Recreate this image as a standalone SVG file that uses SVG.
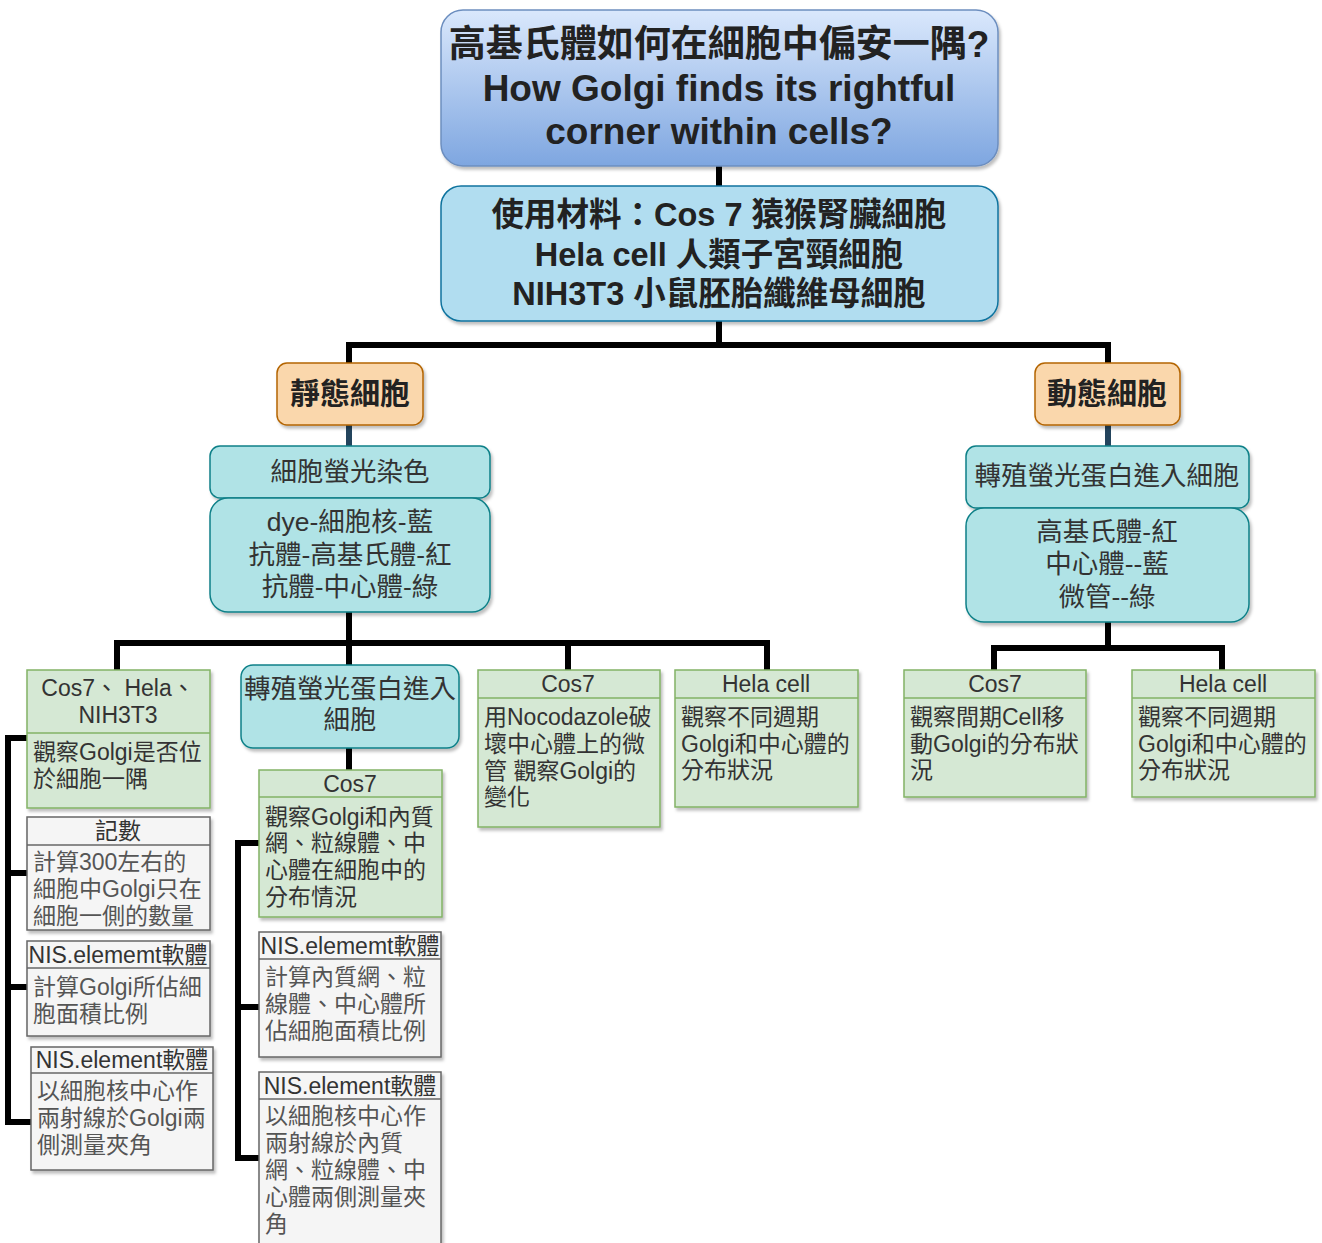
<svg xmlns="http://www.w3.org/2000/svg" width="1322" height="1243" viewBox="0 0 1322 1243">
<defs>
<linearGradient id="gTitle" x1="0" y1="0" x2="0" y2="1">
<stop offset="0" stop-color="#dae8fc"/>
<stop offset="1" stop-color="#7ea6e0"/>
</linearGradient>
<filter id="sh" x="-10%" y="-10%" width="130%" height="130%">
<feDropShadow dx="2" dy="3" stdDeviation="1.5" flood-color="#000" flood-opacity="0.25"/>
</filter>
<style>
text{font-family:"Liberation Sans","Noto Sans CJK TC",sans-serif;text-anchor:middle;fill:#222}
.b{font-weight:bold}
.t37{font-size:37px}
.t33{font-size:32.5px}
.t30{font-size:30px}
.t26{font-size:26.5px;fill:#333}
.t22{font-size:23px;fill:#333}
.l{text-anchor:start}
.gb{fill:#555}
.title{fill:url(#gTitle);stroke:#6c8ebf;stroke-width:1.5;filter:url(#sh)}
.blue{fill:#b1ddf0;stroke:#10739e;stroke-width:1.5;filter:url(#sh)}
.org{fill:#fad7ac;stroke:#b46504;stroke-width:1.5;filter:url(#sh)}
.teal{fill:#b0e3e6;stroke:#0e8088;stroke-width:1.5;filter:url(#sh)}
.grn{fill:#d5e8d4;stroke:#82b366;stroke-width:1.5;filter:url(#sh)}
.gry{fill:#f5f5f5;stroke:#666;stroke-width:1.5;filter:url(#sh)}
.gsep{stroke:#82b366;stroke-width:1.5}
.ysep{stroke:#666;stroke-width:1.5}
.c{fill:none;stroke:#000;stroke-width:6}
.cb{fill:none;stroke:#23445d;stroke-width:6}
</style>
</defs>
<rect width="1322" height="1243" fill="#fff"/>
<g id="connectors">
<path class="c" d="M719 166V186"/>
<path class="c" d="M719 321V345M349 345H1108M349 342V364M1108 342V364"/>
<path class="cb" d="M349 425V447"/>
<path class="cb" d="M1108 425V447"/>
<path class="c" d="M349 612V643M117 643H767M117 640V670M349 640V666M568 640V670M767 640V670"/>
<path class="c" d="M1108 622V648M994 648H1222M994 645V670M1222 645V670"/>
<path class="c" d="M349 748V770"/>
<path class="c" d="M27 738H8V1122H31M8 873H27M8 987H27"/>
<path class="c" d="M259 843H238V1158H259M238 1007H259"/>
</g>
<g id="n-title">
<rect class="title" x="441" y="10" width="557" height="156" rx="22"/>
<text class="b t37" x="719" y="57">高基氏體如何在細胞中偏安一隅?</text>
<text class="b t37" x="719" y="101">How Golgi finds its rightful</text>
<text class="b t37" x="719" y="144">corner within cells?</text>
</g>
<g id="n-material">
<rect class="blue" x="441" y="186" width="557" height="135" rx="20"/>
<text class="b t33" x="719" y="226">使用材料：Cos 7 猿猴腎臟細胞</text>
<text class="b t33" x="719" y="266">Hela cell 人類子宮頸細胞</text>
<text class="b t33" x="719" y="305">NIH3T3 小鼠胚胎纖維母細胞</text>
</g>
<g id="n-static">
<rect class="org" x="277" y="363" width="146" height="62" rx="10"/>
<text class="b t30" x="350" y="404">靜態細胞</text>
</g>
<g id="n-dynamic">
<rect class="org" x="1035" y="363" width="145" height="62" rx="10"/>
<text class="b t30" x="1107" y="404">動態細胞</text>
</g>
<g id="n-stain">
<rect class="teal" x="210" y="446" width="280" height="52" rx="10"/>
<text class="t26" x="350" y="481">細胞螢光染色</text>
</g>
<g id="n-dye">
<rect class="teal" x="210" y="498" width="280" height="114" rx="18"/>
<text class="t26" x="350" y="531">dye-細胞核-藍</text>
<text class="t26" x="350" y="564">抗體-高基氏體-紅</text>
<text class="t26" x="350" y="596">抗體-中心體-綠</text>
</g>
<g id="n-trans-r">
<rect class="teal" x="966" y="446" width="283" height="62" rx="10"/>
<text class="t26" x="1107" y="485">轉殖螢光蛋白進入細胞</text>
</g>
<g id="n-colors-r">
<rect class="teal" x="966" y="508" width="283" height="114" rx="18"/>
<text class="t26" x="1107" y="541">高基氏體-紅</text>
<text class="t26" x="1107" y="573">中心體--藍</text>
<text class="t26" x="1107" y="606">微管--綠</text>
</g>
<g id="n-a">
<rect class="grn" x="27" y="670" width="183" height="138"/>
<line class="gsep" x1="27" y1="733" x2="210" y2="733"/>
<text class="t22" x="118" y="696">Cos7、 Hela、</text>
<text class="t22" x="118" y="723">NIH3T3</text>
<text class="t22 l" x="33" y="760">觀察Golgi是否位</text>
<text class="t22 l" x="33" y="787">於細胞一隅</text>
</g>
<g id="n-trans-m">
<rect class="teal" x="241" y="665" width="218" height="83" rx="12"/>
<text class="t26" x="350" y="698">轉殖螢光蛋白進入</text>
<text class="t26" x="350" y="729">細胞</text>
</g>
<g id="n-cos7-m">
<rect class="grn" x="259" y="770" width="183" height="147"/>
<line class="gsep" x1="259" y1="797" x2="442" y2="797"/>
<text class="t22" x="350" y="792">Cos7</text>
<text class="t22 l" x="265" y="825">觀察Golgi和內質</text>
<text class="t22 l" x="265" y="851">網、粒線體、中</text>
<text class="t22 l" x="265" y="878">心體在細胞中的</text>
<text class="t22 l" x="265" y="905">分布情況</text>
</g>
<g id="n-noco">
<rect class="grn" x="478" y="670" width="182" height="157"/>
<line class="gsep" x1="478" y1="698" x2="660" y2="698"/>
<text class="t22" x="568" y="692">Cos7</text>
<text class="t22 l" x="484" y="725">用Nocodazole破</text>
<text class="t22 l" x="484" y="752">壞中心體上的微</text>
<text class="t22 l" x="484" y="779">管 觀察Golgi的</text>
<text class="t22 l" x="484" y="805">變化</text>
</g>
<g id="n-hela-m">
<rect class="grn" x="675" y="670" width="183" height="137"/>
<line class="gsep" x1="675" y1="698" x2="858" y2="698"/>
<text class="t22" x="766" y="692">Hela cell</text>
<text class="t22 l" x="681" y="725">觀察不同週期</text>
<text class="t22 l" x="681" y="752">Golgi和中心體的</text>
<text class="t22 l" x="681" y="778">分布狀況</text>
</g>
<g id="n-cos7-r">
<rect class="grn" x="904" y="670" width="182" height="127"/>
<line class="gsep" x1="904" y1="698" x2="1086" y2="698"/>
<text class="t22" x="995" y="692">Cos7</text>
<text class="t22 l" x="910" y="725">觀察間期Cell移</text>
<text class="t22 l" x="910" y="752">動Golgi的分布狀</text>
<text class="t22 l" x="910" y="778">況</text>
</g>
<g id="n-hela-r">
<rect class="grn" x="1132" y="670" width="183" height="127"/>
<line class="gsep" x1="1132" y1="698" x2="1315" y2="698"/>
<text class="t22" x="1223" y="692">Hela cell</text>
<text class="t22 l" x="1138" y="725">觀察不同週期</text>
<text class="t22 l" x="1138" y="752">Golgi和中心體的</text>
<text class="t22 l" x="1138" y="778">分布狀況</text>
</g>
<g id="n-count">
<rect class="gry" x="27" y="817" width="183" height="113"/>
<line class="ysep" x1="27" y1="845" x2="210" y2="845"/>
<text class="t22" x="118" y="839">記數</text>
<text class="t22 l gb" x="33" y="870">計算300左右的</text>
<text class="t22 l gb" x="33" y="897">細胞中Golgi只在</text>
<text class="t22 l gb" x="33" y="924">細胞一側的數量</text>
</g>
<g id="n-nis1">
<rect class="gry" x="27" y="941" width="183" height="95"/>
<line class="ysep" x1="27" y1="968" x2="210" y2="968"/>
<text class="t22" x="118" y="963">NIS.elememt軟體</text>
<text class="t22 l gb" x="33" y="995">計算Golgi所佔細</text>
<text class="t22 l gb" x="33" y="1022">胞面積比例</text>
</g>
<g id="n-nis2">
<rect class="gry" x="31" y="1047" width="182" height="123"/>
<line class="ysep" x1="31" y1="1073" x2="213" y2="1073"/>
<text class="t22" x="122" y="1068">NIS.element軟體</text>
<text class="t22 l gb" x="37" y="1099">以細胞核中心作</text>
<text class="t22 l gb" x="37" y="1126">兩射線於Golgi兩</text>
<text class="t22 l gb" x="37" y="1153">側測量夾角</text>
</g>
<g id="n-nis3">
<rect class="gry" x="259" y="932" width="182" height="125"/>
<line class="ysep" x1="259" y1="959" x2="441" y2="959"/>
<text class="t22" x="350" y="954">NIS.elememt軟體</text>
<text class="t22 l gb" x="265" y="985">計算內質網、粒</text>
<text class="t22 l gb" x="265" y="1012">線體、中心體所</text>
<text class="t22 l gb" x="265" y="1039">佔細胞面積比例</text>
</g>
<g id="n-nis4">
<rect class="gry" x="259" y="1072" width="182" height="180"/>
<line class="ysep" x1="259" y1="1099" x2="441" y2="1099"/>
<text class="t22" x="350" y="1094">NIS.element軟體</text>
<text class="t22 l gb" x="265" y="1124">以細胞核中心作</text>
<text class="t22 l gb" x="265" y="1151">兩射線於內質</text>
<text class="t22 l gb" x="265" y="1178">網、粒線體、中</text>
<text class="t22 l gb" x="265" y="1205">心體兩側測量夾</text>
<text class="t22 l gb" x="265" y="1232">角</text>
</g>
</svg>
